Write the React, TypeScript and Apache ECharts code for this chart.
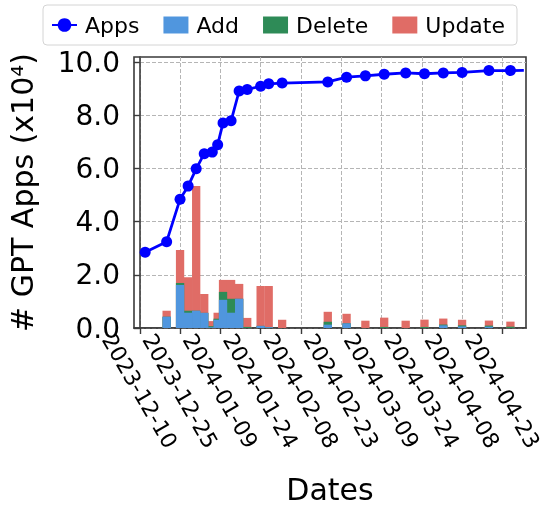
import React, { useEffect, useRef } from 'react';
import * as echarts from 'echarts';

const ORIGIN = '2023-12-10';

const appDates = [
  '2023-12-12', '2023-12-20', '2023-12-25', '2023-12-28', '2023-12-31', '2024-01-03',
  '2024-01-06', '2024-01-08', '2024-01-10', '2024-01-13', '2024-01-16', '2024-01-19',
  '2024-01-24', '2024-01-27', '2024-02-01', '2024-02-18', '2024-02-25', '2024-03-03',
  '2024-03-10', '2024-03-18', '2024-03-25', '2024-04-01', '2024-04-08', '2024-04-18',
  '2024-04-26', '2024-05-01',
];
const appCounts = [
  2.85, 3.25, 4.85, 5.34, 5.99, 6.56,
  6.62, 6.9, 7.72, 7.8, 8.92, 8.98,
  9.1, 9.19, 9.22, 9.26, 9.44, 9.49,
  9.55, 9.6, 9.57, 9.6, 9.62, 9.69,
  9.69, 9.7,
];
// the last Apps point is drawn as a line end without a marker
const appMarkerless = ['2024-05-01'];

const opDates = [
  '2023-12-20', '2023-12-25', '2023-12-28', '2023-12-31', '2024-01-03', '2024-01-06',
  '2024-01-08', '2024-01-10', '2024-01-13', '2024-01-16', '2024-01-19', '2024-01-24',
  '2024-01-27', '2024-02-01', '2024-02-18', '2024-02-25', '2024-03-03', '2024-03-10',
  '2024-03-18', '2024-03-25', '2024-04-01', '2024-04-08', '2024-04-18', '2024-04-26',
];
const addCounts = [
  0.425, 1.62, 0.575, 0.65, 0.57, 0.03,
  0.31, 1.06, 0.575, 1.1, 0, 0.08,
  0.03, 0, 0.125, 0.175, 0, 0,
  0, 0, 0.1, 0.06, 0.05, 0,
];
const deleteCounts = [
  0, 0.075, 0.075, 0, 0, 0.04,
  0.04, 0.3, 0.525, 0, 0.04, 0,
  0, 0, 0.11, 0, 0, 0.04,
  0, 0.04, 0.03, 0.04, 0.04, 0.05,
];
const updateCounts = [
  0.225, 1.24, 1.26, 4.69, 0.71, 0.19,
  0.225, 0.45, 0.71, 0.56, 0.34, 1.5,
  1.55, 0.31, 0.375, 0.36, 0.275, 0.35,
  0.275, 0.275, 0.225, 0.21, 0.19, 0.19,
];

const xTickDates = [
  '2023-12-10', '2023-12-25', '2024-01-09', '2024-01-24', '2024-02-08',
  '2024-02-23', '2024-03-09', '2024-03-24', '2024-04-08', '2024-04-23',
];
const yTicks = [0, 2, 4, 6, 8, 10];

const X_MIN = -2.15;
const X_MAX = 143.8;
const Y_MAX = 10.2;

const DAY = 86400000;
const originMs = Date.parse(ORIGIN + 'T00:00:00Z');
const dayOf = (s: string) => (Date.parse(s + 'T00:00:00Z') - originMs) / DAY;
const fmtDay = (d: number) => new Date(originMs + Math.round(d) * DAY).toISOString().slice(0, 10);

const FONT = 'DejaVu Sans';
const AXIS_COLOR = '#3a3a3a';
const BAR_W = 8.3;

export default function App() {
  const ref = useRef<HTMLDivElement>(null);
  useEffect(() => {
    if (!ref.current) return;
    const chart = echarts.init(ref.current, undefined, { renderer: 'svg' });
    const opDays = opDates.map(dayOf);
    const tickDays = xTickDates.map(dayOf);
    // stacked tops (drawn as overlapping bars, tallest first)
    const addTop = addCounts.map((a) => a);
    const delTop = addCounts.map((a, i) => a + deleteCounts[i]);
    const updTop = addCounts.map((a, i) => a + deleteCounts[i] + updateCounts[i]);
    const splitStyle = { type: [4, 2] as any, color: '#b5b5b5', width: 1 };
    const barBase = { type: 'bar', barWidth: BAR_W, barGap: '-100%' };
    chart.setOption({
      animation: false,
      textStyle: { fontFamily: FONT },
      grid: {
        left: 134, top: 57, width: 392, height: 271,
        show: true, borderColor: AXIS_COLOR, borderWidth: 1.6,
        containLabel: false, outerBoundsMode: 'none',
      },
      legend: {
        data: [
          { name: 'Apps' },
          { name: 'Add', icon: 'rect' },
          { name: 'Delete', icon: 'rect' },
          { name: 'Update', icon: 'rect' },
        ],
        left: 43, top: 5,
        padding: [9, 12, 9, 8],
        itemGap: 24, itemWidth: 25, itemHeight: 17,
        borderColor: '#d4d4d4', borderWidth: 1, borderRadius: 4,
        textStyle: { fontSize: 22, color: '#000', fontFamily: FONT, padding: [0, 0, 0, 3] },
      },
      xAxis: {
        type: 'value', min: X_MIN, max: X_MAX,
        name: 'Dates', nameLocation: 'middle', nameGap: 146,
        nameTextStyle: { fontSize: 30, color: '#000', fontFamily: FONT },
        axisLine: { show: true, onZero: false, lineStyle: { color: AXIS_COLOR, width: 1.6 } },
        axisTick: { show: true, length: 6, customValues: tickDays, lineStyle: { color: AXIS_COLOR, width: 1.4 } },
        axisLabel: {
          customValues: tickDays, formatter: (v: number) => fmtDay(v),
          rotate: -60, align: 'center', verticalAlign: 'middle', margin: 63,
          fontSize: 22, color: '#000', fontFamily: FONT,
        },
        splitLine: { show: true, lineStyle: splitStyle },
      },
      yAxis: {
        type: 'value', min: 0, max: Y_MAX,
        name: '# GPT Apps (x10⁴)', nameLocation: 'middle', nameGap: 97,
        nameTextStyle: { fontSize: 30, color: '#000', fontFamily: FONT },
        axisLine: { show: true, lineStyle: { color: AXIS_COLOR, width: 1.6 } },
        axisTick: { show: true, length: 6, customValues: yTicks, lineStyle: { color: AXIS_COLOR, width: 1.4 } },
        axisLabel: {
          customValues: yTicks, formatter: (v: number) => v.toFixed(1),
          fontSize: 28, color: '#000', fontFamily: FONT, margin: 14,
        },
        splitLine: { show: true, lineStyle: splitStyle },
      },
      series: [
        {
          ...barBase, name: 'Update',
          data: opDays.map((d, i) => [d, updTop[i]]),
          itemStyle: { color: '#E06C66' },
        },
        {
          ...barBase, name: 'Delete',
          data: opDays.map((d, i) => [d, delTop[i]]),
          itemStyle: { color: '#2E8B57' },
        },
        {
          ...barBase, name: 'Add',
          data: opDays.map((d, i) => [d, addTop[i]]),
          itemStyle: { color: '#5096DE' },
        },
        {
          name: 'Apps', type: 'line', z: 5, clip: true,
          data: appDates.map((s, i) =>
            appMarkerless.includes(s)
              ? { value: [dayOf(s), appCounts[i]], symbol: 'none' }
              : { value: [dayOf(s), appCounts[i]] }
          ),
          symbol: 'circle', symbolSize: 11,
          itemStyle: { color: '#0000FF' },
          lineStyle: { color: '#0000FF', width: 2.8 },
        },
      ],
    });
    return () => chart.dispose();
  }, []);
  return <div ref={ref} style={{ position: 'fixed', left: 0, top: 0, width: 544, height: 506 }} />;
}
